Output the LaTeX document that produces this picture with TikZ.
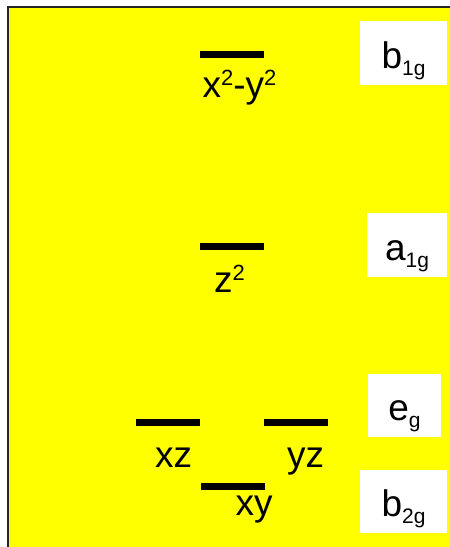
\documentclass[tikz,border=0pt]{standalone}
\usepackage{fontspec}
\setmainfont{Liberation Sans}
\usepackage{tikz}
\usetikzlibrary{positioning}
\definecolor{bgyellow}{HTML}{FFFF00}
\newcommand{\orbsup}[1]{\raisebox{12pt}{\fontsize{22}{24}\selectfont #1}}
\newcommand{\orbsub}[1]{\raisebox{-7pt}{\fontsize{21}{22}\selectfont #1}}
\tikzset{
  orbbar/.style={fill=black, inner sep=0pt, minimum width=64pt, minimum height=7pt},
  orbtext/.style={font=\fontsize{37}{40}\selectfont, inner sep=0pt, anchor=base},
  symbox/.style={fill=white, inner sep=0pt, text height=47pt, text depth=16.5pt,
    font=\fontsize{37}{40}\selectfont, minimum width=#1},
}

\begin{document}
\begin{tikzpicture}[x=1pt, y=-1pt]
  \useasboundingbox (0,0) rectangle (450,547);
  \fill[bgyellow] (8,7) rectangle (450,547);
  \draw[line width=2pt, black!85] (8,547) |- (450,7);
  % levels
  \node[orbbar] (lvlbone) at (232,54.5) {};
  \node[orbbar] (lvlaone) at (232,246.5) {};
  \node[orbbar] (lvlxz) at (168,422) {};
  \node[orbbar] (lvlyz) at (296,422) {};
  \node[orbbar] (lvlxy) at (232.5,486.5) {};
  % orbital names
  \node[orbtext] (txtbone) at (239.5,97) {x\orbsup{2}-y\orbsup{2}};
  \node[orbtext] (txtaone) at (229.5,292) {z\orbsup{2}};
  \node[orbtext] (txtxz) at (173.5,467) {xz};
  \node[orbtext] (txtyz) at (305.5,467) {yz};
  \node[orbtext] (txtxy) at (254,515) {xy};
  % symmetry labels
  \node[symbox=87pt] (symbone) at (403.5,53) {b\orbsub{1g}};
  \node[symbox=80pt] (symaone) at (407,245) {a\orbsub{1g}};
  \node[symbox=73pt] (symeg) at (404.5,405.5) {e\orbsub{g}};
  \node[symbox=87pt] (symbtwo) at (403.5,501.5) {b\orbsub{2g}};
\end{tikzpicture}
\end{document}
